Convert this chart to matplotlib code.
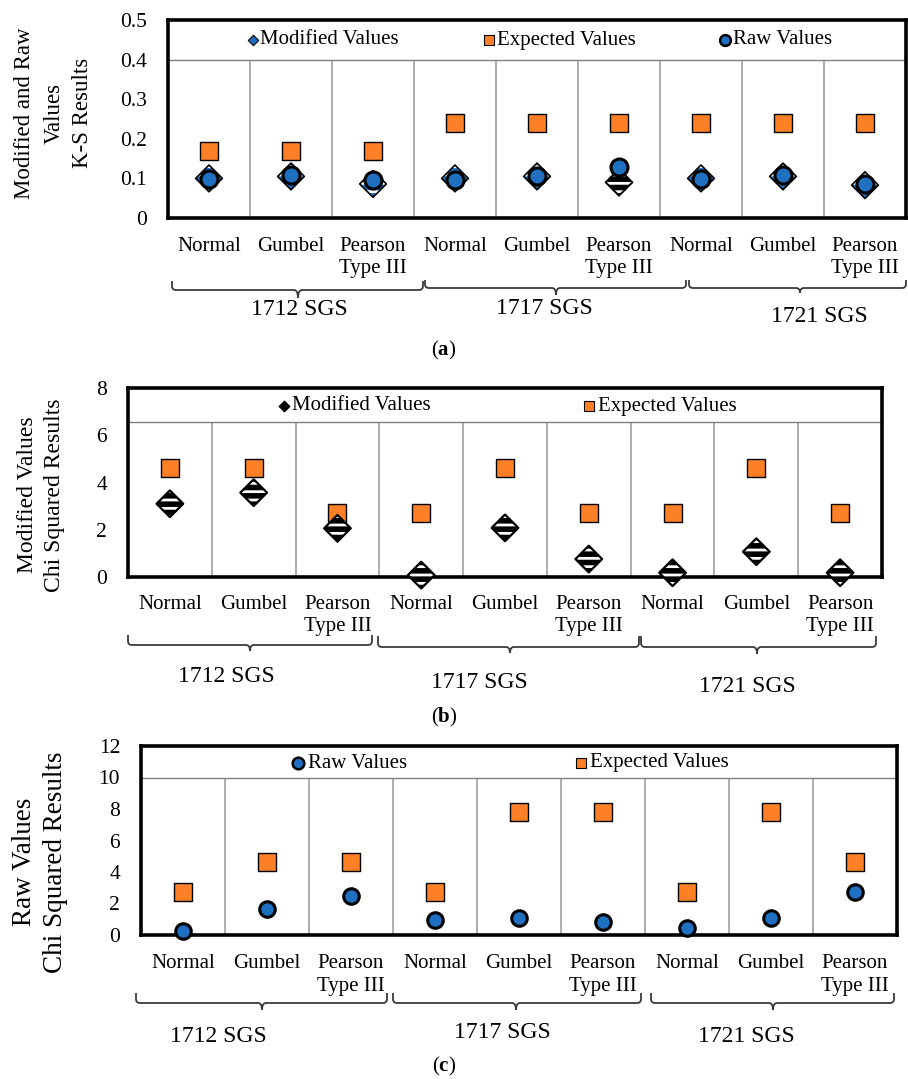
import matplotlib
matplotlib.use('Agg')
import matplotlib.pyplot as plt
from matplotlib.transforms import blended_transform_factory
from matplotlib.path import Path
from matplotlib.patches import PathPatch

plt.rcParams['font.family'] = ['Liberation Serif', 'DejaVu Serif']
plt.rcParams['mathtext.fontset'] = 'custom'
plt.rcParams['mathtext.rm'] = 'Liberation Serif'
plt.rcParams['mathtext.bf'] = 'Liberation Serif:bold'
plt.rcParams['hatch.linewidth'] = 4.0

# ---------------- data ----------------
categories = ['Normal', 'Gumbel', 'Pearson\nType III'] * 3
groups = ['1712 SGS', '1717 SGS', '1721 SGS']

# (a) K-S results
ks_modified = [0.100, 0.105, 0.086, 0.100, 0.105, 0.090, 0.100, 0.105, 0.083]
ks_raw = [0.098, 0.108, 0.097, 0.097, 0.107, 0.128, 0.098, 0.108, 0.087]
ks_expected = [0.17, 0.17, 0.17, 0.24, 0.24, 0.24, 0.24, 0.24, 0.24]

# (b) Chi squared, modified values
chi_mod_modified = [3.1, 3.57, 2.06, 0.08, 2.08, 0.76, 0.18, 1.07, 0.18]
chi_mod_expected = [4.61, 4.61, 2.71, 2.71, 4.61, 2.71, 2.71, 4.61, 2.71]

# (c) Chi squared, raw values
chi_raw_raw = [0.26, 1.66, 2.45, 0.96, 1.11, 0.81, 0.47, 1.11, 2.72]
chi_raw_expected = [2.71, 4.61, 4.61, 2.71, 7.78, 7.78, 2.71, 7.78, 4.61]

BLUE = '#1f70c1'
ORANGE = '#fd7f26'
GRID = '#a6a6a6'

W, H = 908, 1079
fig = plt.figure(figsize=(W / 100, H / 100), dpi=100)


def fx(px):
    return px / W


def fy(py):
    return 1 - py / H


def make_axes(l, t, r, b, ymax, yticks, ytlabels, legend_bottom):
    ax = fig.add_axes([fx(l), fy(b), (r - l) / W, (b - t) / H])
    ax.set_xlim(-0.5, 8.5)
    ax.set_ylim(0, ymax)
    ax.set_xticks([])
    ax.set_yticks(yticks)
    ax.set_yticklabels(ytlabels, fontsize=15.5)
    ax.tick_params(axis='y', length=0, pad=15)
    for s in ax.spines.values():
        s.set_linewidth(2.6)
        s.set_color('black')
    ax.vlines([i + 0.5 for i in range(8)], 0, legend_bottom, color=GRID, lw=1.3, zorder=1)
    ax.axhline(legend_bottom, color='#7f7f7f', lw=1.0, zorder=1)
    return ax


def cat_labels(ax, ytop):
    tr = blended_transform_factory(ax.transData, fig.transFigure)
    for i, c in enumerate(categories):
        ax.text(i, fy(ytop), c, transform=tr, ha='center', va='top', fontsize=15,
                multialignment='center', linespacing=1.25)


def brace(x0, x1, xm, yl, yt, ytip, r=4):
    pts = [(x0, yt), (x0, yl - r), (x0, yl), (x0 + r, yl), (xm - r, yl), (xm, yl),
           (xm, ytip), (xm, yl), (xm + r, yl), (x1 - r, yl), (x1, yl), (x1, yl - r), (x1, yt)]
    codes = [Path.MOVETO, Path.LINETO, Path.CURVE3, Path.CURVE3, Path.LINETO, Path.CURVE3,
             Path.CURVE3, Path.CURVE3, Path.CURVE3, Path.LINETO, Path.CURVE3, Path.CURVE3, Path.LINETO]
    verts = [(fx(x), fy(y)) for x, y in pts]
    fig.add_artist(PathPatch(Path(verts, codes), fill=False, lw=1.3, ec='#3a3a3a',
                             transform=fig.transFigure))


def ftext(x, y, s, size, **kw):
    fig.text(fx(x), fy(y), s, fontsize=size, ha='center', va='center', **kw)


def leg_marker(ax, x, y, **kw):
    ax.scatter([fx(x)], [fy(y)], transform=fig.transFigure, clip_on=False, zorder=6, **kw)


def hatched_diamonds(ax, x, y, s, face, stripe, lw):
    if not x:
        return
    ax.scatter(x, y, marker='D', s=s, facecolor=face, edgecolor=stripe, hatch='--',
               linewidths=0, zorder=3, clip_on=False)
    ax.scatter(x, y, marker='D', s=s, facecolor='none', edgecolor='black',
               linewidths=lw, zorder=3.1, clip_on=False)


xs = list(range(9))

# ---------------- panel (a) ----------------
axa = make_axes(168, 20, 906, 218, 0.5, [0, 0.1, 0.2, 0.3, 0.4, 0.5],
                ['0', '0.1', '0.2', '0.3', '0.4', '0.5'], 0.4)
axa.scatter(xs, ks_expected, marker='s', s=185, facecolor=ORANGE, edgecolor='black',
            linewidths=1.0, zorder=3)
bw_points = [5]  # this marker is drawn with black/white stripes in the original
hatched_diamonds(axa, [x for x in xs if x not in bw_points],
                 [v for x, v in zip(xs, ks_modified) if x not in bw_points], 185, 'white', BLUE, 1.2)
hatched_diamonds(axa, [x for x in xs if x in bw_points],
                 [v for x, v in zip(xs, ks_modified) if x in bw_points], 185, 'white', 'black', 1.4)
axa.scatter(xs, ks_raw, marker='o', s=150, facecolor=BLUE, edgecolor='black',
            linewidths=2.2, zorder=4)
axa.set_xlim(-0.5, 8.5)
axa.set_ylim(0, 0.5)
# legend
leg_marker(axa, 253, 40, marker='D', s=28, facecolor=BLUE, edgecolor='black', linewidths=0.8)
fig.text(fx(260), fy(40), 'Modified Values', fontsize=15, va='center', ha='left')
leg_marker(axa, 489, 40, marker='s', s=60, facecolor=ORANGE, edgecolor='black', linewidths=0.8)
fig.text(fx(497), fy(40), 'Expected Values', fontsize=15, va='center', ha='left')
leg_marker(axa, 725, 40, marker='o', s=60, facecolor=BLUE, edgecolor='black', linewidths=1.8)
fig.text(fx(733), fy(40), 'Raw Values', fontsize=15, va='center', ha='left')
cat_labels(axa, 237)
brace(172, 423, 298, 290, 281, 298)
brace(425, 686, 556, 288, 280, 295)
brace(689, 906, 800, 288, 280, 293)
ftext(299, 310, groups[0], 17)
ftext(544, 308, groups[1], 17)
ftext(819, 317, groups[2], 17)
ftext(444, 350, r'($\mathbf{a}$)', 15)
fig.text(fx(54), fy(113), 'Modified and Raw\nValues\nK-S Results', fontsize=16.5,
         rotation=90, ha='center', va='center', multialignment='center', linespacing=1.5)

# ---------------- panel (b) ----------------
axb = make_axes(128, 388, 882, 577, 8, [0, 2, 4, 6, 8], ['0', '2', '4', '6', '8'], 6.55)
axb.scatter(xs, chi_mod_expected, marker='s', s=185, facecolor=ORANGE, edgecolor='black',
            linewidths=1.0, zorder=3)
hatched_diamonds(axb, xs, chi_mod_modified, 185, 'white', 'black', 1.6)
axb.set_xlim(-0.5, 8.5)
axb.set_ylim(0, 8)
leg_marker(axb, 284, 406, marker='D', s=30, facecolor='black', edgecolor='black', linewidths=0.8)
fig.text(fx(292), fy(406), 'Modified Values', fontsize=15, va='center', ha='left')
leg_marker(axb, 589, 406, marker='s', s=60, facecolor=ORANGE, edgecolor='black', linewidths=0.8)
fig.text(fx(598), fy(406), 'Expected Values', fontsize=15, va='center', ha='left')
cat_labels(axb, 595)
brace(128, 372, 250, 645, 635, 651)
brace(378, 639, 510, 647, 636, 653)
brace(641, 876, 757, 647, 636, 654)
ftext(226, 677, groups[0], 17)
ftext(479, 682, groups[1], 17)
ftext(747, 686, groups[2], 17)
ftext(444, 717, r'($\mathbf{b}$)', 15)
fig.text(fx(41), fy(495), 'Modified Values\nChi Squared Results', fontsize=17,
         rotation=90, ha='center', va='center', multialignment='center', linespacing=1.4)

# ---------------- panel (c) ----------------
axc = make_axes(141, 746, 897, 935, 12, [0, 2, 4, 6, 8, 10, 12],
                ['0', '2', '4', '6', '8', '10', '12'], 10)
axc.scatter(xs, chi_raw_expected, marker='s', s=185, facecolor=ORANGE, edgecolor='black',
            linewidths=1.0, zorder=3)
axc.scatter(xs, chi_raw_raw, marker='o', s=125, facecolor=BLUE, edgecolor='black',
            linewidths=2.2, zorder=4, clip_on=False)
axc.set_xlim(-0.5, 8.5)
axc.set_ylim(0, 12)
leg_marker(axc, 298, 763, marker='o', s=70, facecolor=BLUE, edgecolor='black', linewidths=1.8)
fig.text(fx(308), fy(763), 'Raw Values', fontsize=15, va='center', ha='left')
leg_marker(axc, 581, 763, marker='s', s=60, facecolor=ORANGE, edgecolor='black', linewidths=0.8)
fig.text(fx(590), fy(763), 'Expected Values', fontsize=15, va='center', ha='left')
cat_labels(axc, 954)
brace(136, 387, 262, 1003, 993, 1010)
brace(393, 641, 516, 1003, 993, 1010)
brace(651, 894, 773, 1003, 993, 1010)
ftext(218, 1037, groups[0], 17)
ftext(502, 1033, groups[1], 17)
ftext(746, 1037, groups[2], 17)
ftext(444, 1066, r'($\mathbf{c}$)', 15)
fig.text(fx(40), fy(862), 'Raw Values\nChi Squared Results', fontsize=19.5,
         rotation=90, ha='center', va='center', multialignment='center', linespacing=1.35)

fig.savefig('out.png', dpi=100, facecolor='white')
